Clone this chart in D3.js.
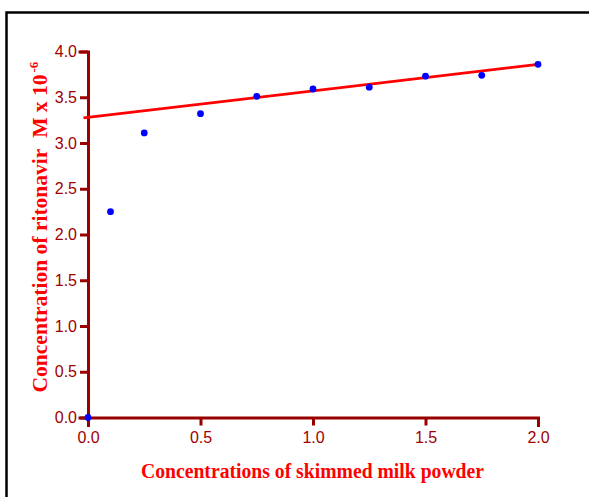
<!DOCTYPE html>
<html>
<head>
<meta charset="utf-8">
<script src="https://cdn.jsdelivr.net/npm/d3@7"></script>
<style>
  html, body { margin: 0; padding: 0; background: #fff; }
  svg { display: block; }
</style>
</head>
<body>
<script>
// Skimmed milk powder concentration vs. measured ritonavir concentration
const milkConc = [0, 0.1, 0.25, 0.5, 0.75, 1.0, 1.25, 1.5, 1.75, 2.0];
const ritonavir = [0, 2.25, 3.11, 3.32, 3.51, 3.59, 3.61, 3.73, 3.74, 3.86];

// Fitted straight line (intercept, slope) and the x span it is drawn over
const fitIntercept = 3.28;
const fitSlope = 0.29;
const fitRange = [-0.02, 2.0];

const xTicks = [0, 0.5, 1.0, 1.5, 2.0];
const yTicks = [0, 0.5, 1.0, 1.5, 2.0, 2.5, 3.0, 3.5, 4.0];

const W = 589, H = 497;
const axisColor = "#990000";
const labelColor = "#a00000";

const svg = d3.select("body").append("svg")
  .attr("width", W).attr("height", H);

// Outer frame
svg.append("rect")
  .attr("x", 6.5).attr("y", 12.5)
  .attr("width", 700).attr("height", 700)
  .attr("fill", "none").attr("stroke", "#000").attr("stroke-width", 2.5);

const x = d3.scaleLinear().domain([0, 2]).range([88, 538]);
const y = d3.scaleLinear().domain([0, 4]).range([417.5, 51.5]);

const xAxis = d3.axisBottom(x).tickValues(xTicks).tickFormat(d3.format(".1f"))
  .tickSize(8).tickPadding(6);
const yAxis = d3.axisLeft(y).tickValues(yTicks).tickFormat(d3.format(".1f"))
  .tickSize(8).tickPadding(3);

function styleAxis(g) {
  g.selectAll("path, line").attr("stroke", axisColor).attr("stroke-width", 3);
  g.select(".domain").attr("stroke-linecap", "square");
  g.selectAll("text")
    .attr("fill", labelColor)
    .style("font-family", "Liberation Sans, Arial, sans-serif")
    .style("font-size", "16px");
}

svg.append("g").attr("transform", `translate(0,${y(0)})`).call(xAxis).call(styleAxis);
svg.append("g").attr("transform", `translate(${x(0)},0)`).call(yAxis).call(styleAxis);

// Regression line
const fitLine = d3.line().x(d => x(d)).y(d => y(fitIntercept + fitSlope * d));
svg.append("path")
  .datum(fitRange)
  .attr("d", fitLine)
  .attr("fill", "none")
  .attr("stroke", "#ff0000")
  .attr("stroke-width", 2.8);

// Data points
svg.append("g").selectAll("circle")
  .data(milkConc.map((m, i) => [m, ritonavir[i]]))
  .join("circle")
  .attr("cx", d => x(d[0]))
  .attr("cy", d => y(d[1]))
  .attr("r", 3.4)
  .attr("fill", "#0000ff");

// Axis titles
const titleFont = "'Liberation Serif', 'Times New Roman', serif";

svg.append("text")
  .attr("x", 312.5).attr("y", 477.5)
  .attr("text-anchor", "middle")
  .attr("fill", "#ff0000")
  .style("font-family", titleFont)
  .style("font-weight", "bold")
  .style("font-size", "20px")
  .attr("textLength", 343)
  .attr("lengthAdjust", "spacingAndGlyphs")
  .text("Concentrations of skimmed milk powder");

// Vertical title: main run stretched to its length, exponent set after it
const yTitleStart = 392.5, yTitleLen = 318;
svg.append("text")
  .attr("transform", `translate(46.5,${yTitleStart}) rotate(-90)`)
  .attr("fill", "#ff0000")
  .style("font-family", titleFont)
  .style("font-weight", "bold")
  .style("font-size", "20px")
  .attr("textLength", yTitleLen)
  .attr("lengthAdjust", "spacingAndGlyphs")
  .text("Concentration of ritonavir\u00a0\u00a0M x 10");
svg.append("text")
  .attr("transform", `translate(37.5,${yTitleStart - yTitleLen - 2}) rotate(-90)`)
  .attr("fill", "#ff0000")
  .style("font-family", titleFont)
  .style("font-weight", "bold")
  .style("font-size", "13px")
  .text("-6");
</script>
</body>
</html>
